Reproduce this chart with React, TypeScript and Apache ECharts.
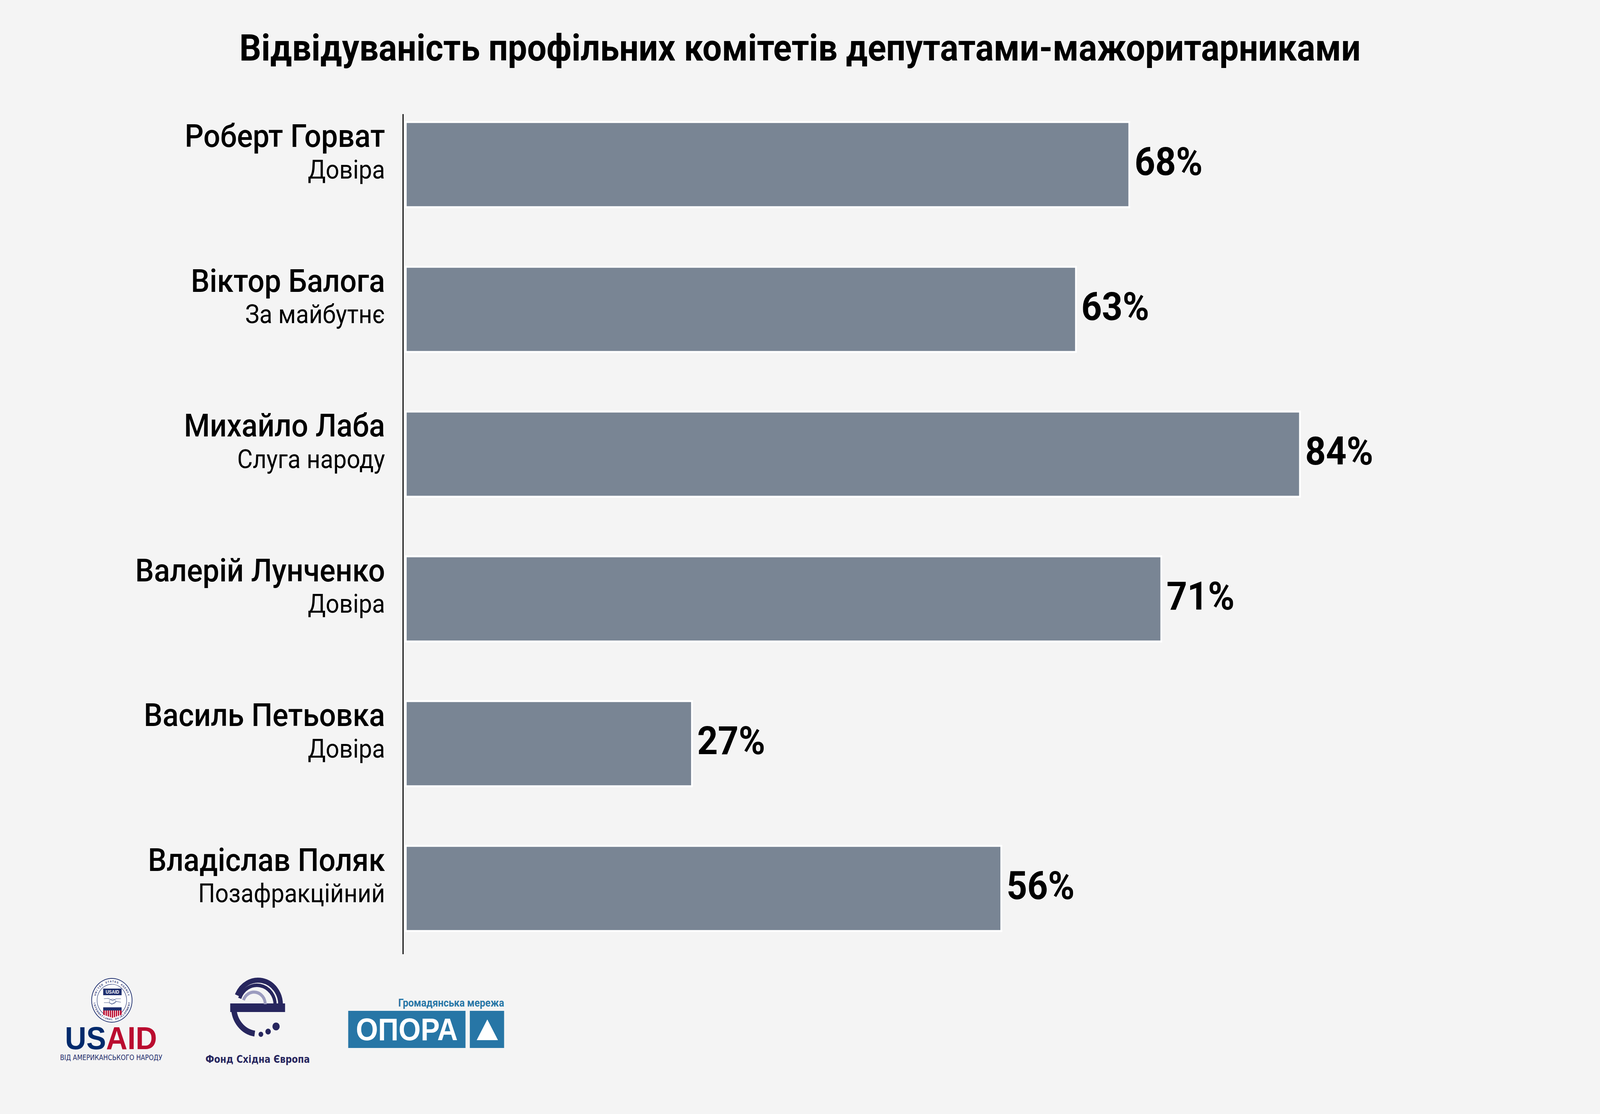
import React, { useEffect, useRef } from "react";
import * as echarts from "echarts";

const TITLE = "Відвідуваність профільних комітетів депутатами-мажоритарниками";
const names = [
  "Роберт Горват",
  "Віктор Балога",
  "Михайло Лаба",
  "Валерій Лунченко",
  "Василь Петьовка",
  "Владіслав Поляк",
];
const parties = ["Довіра", "За майбутнє", "Слуга народу", "Довіра", "Довіра", "Позафракційний"];
const values = [68, 63, 84, 71, 27, 56];

const W = 4434;
const H = 2851;
const NAVY = "#1f2f6e";
const FOND = "#27265e";
const OPORA = "#2776a6";

function sealText(text: string, cx: number, cy: number, r: number, top: boolean, span: number) {
  const els: any[] = [];
  const n = text.length;
  const step = n > 1 ? span / (n - 1) : 0;
  for (let i = 0; i < n; i++) {
    const ch = text[i];
    if (ch === " ") continue;
    let th: number;
    let rot: number;
    if (top) {
      th = -Math.PI / 2 - span / 2 + i * step;
      rot = -(th + Math.PI / 2);
    } else {
      th = Math.PI / 2 + span / 2 - i * step;
      rot = Math.PI / 2 - th;
    }
    els.push({
      type: "text",
      x: cx + r * Math.cos(th),
      y: cy + r * Math.sin(th),
      rotation: rot,
      style: {
        text: ch,
        fill: NAVY,
        font: "bold 7px 'Liberation Sans', Arial, sans-serif",
        align: "center",
        verticalAlign: "middle",
      },
    });
  }
  return els;
}

function buildLogos() {
  const els: any[] = [];
  const scx = 310, scy = 2560;
  els.push({ type: "circle", shape: { cx: scx, cy: scy, r: 56 }, style: { fill: "#ffffff", stroke: NAVY, lineWidth: 2 } });
  els.push({ type: "circle", shape: { cx: scx, cy: scy, r: 41 }, style: { fill: "none", stroke: NAVY, lineWidth: 1.2 } });
  els.push(...sealText("UNITED STATES AGENCY", scx, scy, 48.5, true, 2.55));
  els.push(...sealText("INTERNATIONAL DEVELOPMENT", scx, scy, 48.5, false, 2.85));
  els.push({ type: "circle", shape: { cx: scx - 48.5, cy: scy - 3, r: 1.5 }, style: { fill: NAVY } });
  els.push({ type: "circle", shape: { cx: scx + 48.5, cy: scy - 3, r: 1.5 }, style: { fill: NAVY } });
  els.push({ type: "rect", shape: { x: 286, y: 2530, width: 51, height: 17 }, style: { fill: NAVY } });
  els.push({
    type: "text",
    x: 311.5,
    y: 2539,
    style: { text: "USAID", fill: "#ffffff", font: "bold 12px 'Liberation Sans', Arial, sans-serif", align: "center", verticalAlign: "middle" },
  });
  els.push({ type: "polyline", shape: { points: [[288, 2556], [300, 2555], [312, 2561], [322, 2556], [335, 2556]] }, style: { stroke: "#4a5a8a", lineWidth: 1.2, fill: "none" } });
  els.push({ type: "polyline", shape: { points: [[288, 2566], [302, 2566], [310, 2570], [322, 2563], [335, 2565]] }, style: { stroke: "#4a5a8a", lineWidth: 1.2, fill: "none" } });
  els.push({ type: "ellipse", shape: { cx: 312, cy: 2563, rx: 9, ry: 6 }, style: { fill: "none", stroke: "#4a5a8a", lineWidth: 1 } });
  els.push({ type: "rect", shape: { x: 286, y: 2578, width: 51, height: 8 }, style: { fill: NAVY } });
  for (let k = 0; k < 7; k++) {
    els.push({ type: "circle", shape: { cx: 291 + k * 6.8, cy: 2582, r: 1.2 }, style: { fill: "#ffffff" } });
  }
  els.push({ type: "polygon", shape: { points: [[286, 2586], [337, 2586], [337, 2597], [311.5, 2605], [286, 2597]] }, style: { fill: "#ba0c2f" } });
  for (let k = 1; k < 9; k++) {
    const x = 286 + (51 * k) / 9;
    els.push({ type: "line", shape: { x1: x, y1: 2586, x2: x, y2: 2605 }, style: { stroke: "#ffffff", lineWidth: 2 } });
  }
  els.push({
    type: "text",
    x: 180,
    y: 2657,
    style: {
      text: "{us|US}{aid|AID}",
      font: "bold 82px 'Liberation Sans', Arial, sans-serif",
      lineHeight: 58,
      align: "left",
      verticalAlign: "middle",
      rich: {
        us: { fill: "#002a6c", font: "bold 82px 'Liberation Sans', Arial, sans-serif", lineHeight: 58 },
        aid: { fill: "#ba0c2f", font: "bold 82px 'Liberation Sans', Arial, sans-serif", lineHeight: 58 },
      },
    },
  });
  els.push({
    type: "text",
    x: 308,
    y: 2706,
    style: {
      text: "ВІД АМЕРИКАНСЬКОГО НАРОДУ",
      fill: "#1f2d6b",
      font: "19px 'Liberation Sans Narrow', 'DejaVu Sans Condensed', sans-serif",
      lineHeight: 20,
      align: "center",
      verticalAlign: "middle",
    },
  });

  els.push({ type: "rect", shape: { x: 638, y: 2568, width: 152, height: 22 }, style: { fill: FOND } });
  els.push({ type: "arc", shape: { cx: 716, cy: 2578, r: 68, startAngle: 1.72, endAngle: Math.PI, clockwise: true }, style: { stroke: FOND, lineWidth: 15, fill: "none" } });
  els.push({ type: "arc", shape: { cx: 715, cy: 2571, r: 62.5, startAngle: -2.75, endAngle: 0, clockwise: true }, style: { stroke: FOND, lineWidth: 13, fill: "none" } });
  els.push({ type: "arc", shape: { cx: 712, cy: 2572, r: 50.5, startAngle: -2.8, endAngle: 0, clockwise: true }, style: { stroke: FOND, lineWidth: 9, fill: "none" } });
  els.push({ type: "arc", shape: { cx: 704, cy: 2570, r: 31, startAngle: -2.8, endAngle: 0, clockwise: true }, style: { stroke: "#9c9cbf", lineWidth: 8, fill: "none" } });
  els.push({ type: "circle", shape: { cx: 723, cy: 2647, r: 6.5 }, style: { fill: FOND } });
  els.push({ type: "circle", shape: { cx: 743, cy: 2640, r: 7.5 }, style: { fill: FOND } });
  els.push({ type: "circle", shape: { cx: 765, cy: 2627, r: 10 }, style: { fill: FOND } });
  els.push({
    type: "text",
    x: 714,
    y: 2711,
    style: {
      text: "Фонд Східна Європа",
      fill: FOND,
      font: "bold 27px 'Liberation Sans Narrow', 'DejaVu Sans Condensed', sans-serif",
      align: "center",
      verticalAlign: "middle",
    },
  });

  els.push({
    type: "text",
    x: 1397,
    y: 2567,
    style: { text: "Громадянська мережа", fill: OPORA, font: "bold 27px Roboto, sans-serif", lineHeight: 30, align: "right", verticalAlign: "middle" },
  });
  els.push({ type: "rect", shape: { x: 965, y: 2587, width: 325, height: 95 }, style: { fill: OPORA } });
  els.push({ type: "rect", shape: { x: 1302, y: 2587, width: 95, height: 95 }, style: { fill: OPORA } });
  els.push({
    type: "text",
    x: 1127.5,
    y: 2634,
    style: { text: "ОПОРА", fill: "#ffffff", font: "bold 79px 'Liberation Sans', Arial, sans-serif", lineHeight: 80, align: "center", verticalAlign: "middle" },
  });
  els.push({ type: "polygon", shape: { points: [[1321, 2662], [1380, 2662], [1350.5, 2609]] }, style: { fill: "#ffffff" } });
  return els;
}

export default function App() {
  const ref = useRef<HTMLDivElement>(null);
  const vw = typeof window !== "undefined" ? window.innerWidth : W;
  const vh = typeof window !== "undefined" ? window.innerHeight : H;
  const sx = vw > 0 && vw < W ? vw / W : 1;
  const sy = vh > 0 && vh < H ? vh / H : 1;
  useEffect(() => {
    document.body.style.margin = "0";
    document.body.style.background = "#f4f4f4";
    document.body.style.overflow = "hidden";
    if (!ref.current) return;
    const chart = echarts.init(ref.current, undefined, { renderer: "svg", width: W, height: H });
    chart.setOption({
      animation: false,
      backgroundColor: "#f4f4f4",
      title: {
        text: TITLE,
        left: "center",
        top: 70,
        textStyle: { fontFamily: "Roboto", fontWeight: "bold", fontSize: 95, color: "#000" },
      },
      grid: { left: 1122, right: 356, top: 236, bottom: 392, containLabel: false },
      xAxis: { type: "value", min: 0, max: 100, show: false, splitLine: { show: false } },
      yAxis: {
        type: "category",
        inverse: true,
        data: names,
        axisLine: { show: false },
        axisTick: { show: false },
        splitLine: { show: false },
        axisLabel: {
          margin: 55,
          align: "right",
          padding: [0, 0, 60, 0],
          formatter: (v: string, i: number) => `{n|${v}}\n{p|${parties[i]}}`,
          rich: {
            n: { fontFamily: "Roboto", fontWeight: 500, fontSize: 82, lineHeight: 86, color: "#000", align: "right" },
            p: { fontFamily: "Roboto", fontWeight: "normal", fontSize: 66, lineHeight: 86, color: "#000", align: "right" },
          },
        },
      },
      series: [
        {
          type: "bar",
          data: values,
          barWidth: 223,
          itemStyle: { color: "#798594", borderColor: "#ffffff", borderWidth: 5 },
          label: {
            show: true,
            position: "right",
            distance: 12,
            offset: [0, -7],
            formatter: "{c}%",
            fontFamily: "Roboto",
            fontWeight: "bold",
            fontSize: 100,
            color: "#000",
          },
        },
      ],
      graphic: [
        { type: "line", shape: { x1: 1117, y1: 292, x2: 1117, y2: 2442 }, style: { stroke: "#1a1a1a", lineWidth: 3.5 } },
        ...buildLogos(),
      ],
    });
    return () => chart.dispose();
  }, []);
  return (
    <div style={{ width: W * sx, height: H * sy, overflow: "hidden", background: "#f4f4f4" }}>
      <div
        ref={ref}
        style={{ width: W, height: H, transform: `scale(${sx}, ${sy})`, transformOrigin: "0 0" }}
      />
    </div>
  );
}
